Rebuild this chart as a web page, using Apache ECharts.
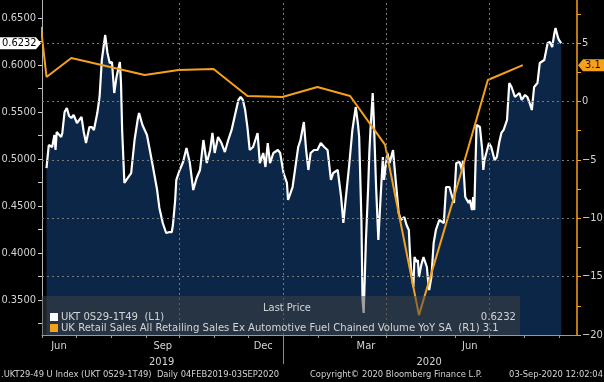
<!DOCTYPE html>
<html><head><meta charset="utf-8">
<script src="https://cdn.jsdelivr.net/npm/echarts@6/dist/echarts.min.js"></script>
<style>html,body{margin:0;padding:0;background:#000;} #c{width:604px;height:382px;}</style>
</head><body><div id="c"></div>
<script>
const FONT = '"DejaVu Sans Condensed","Liberation Sans Narrow","DejaVu Sans",sans-serif';

// ---------- DATA ----------
const whiteDates = ['2019-06-05','2019-06-07','2019-06-10','2019-06-12','2019-06-13','2019-06-14','2019-06-18','2019-06-19','2019-06-21','2019-06-23','2019-06-25','2019-06-27','2019-06-29','2019-07-02','2019-07-06','2019-07-08','2019-07-10','2019-07-13','2019-07-15','2019-07-17','2019-07-20','2019-07-22','2019-07-24','2019-07-27','2019-07-29','2019-07-31','2019-08-02','2019-08-04','2019-08-06','2019-08-09','2019-08-10','2019-08-11','2019-08-13','2019-08-16','2019-08-19','2019-08-22','2019-08-25','2019-08-26','2019-08-29','2019-09-02','2019-09-04','2019-09-07','2019-09-11','2019-09-13','2019-09-16','2019-09-19','2019-09-22','2019-09-24','2019-09-25','2019-09-27','2019-09-28','2019-10-01','2019-10-04','2019-10-07','2019-10-10','2019-10-13','2019-10-16','2019-10-19','2019-10-22','2019-10-25','2019-10-28','2019-10-30','2019-11-01','2019-11-04','2019-11-07','2019-11-10','2019-11-13','2019-11-16','2019-11-19','2019-11-22','2019-11-24','2019-11-26','2019-11-28','2019-11-30','2019-12-02','2019-12-05','2019-12-09','2019-12-11','2019-12-14','2019-12-16','2019-12-18','2019-12-20','2019-12-23','2019-12-27','2019-12-29','2020-01-01','2020-01-04','2020-01-05','2020-01-09','2020-01-12','2020-01-14','2020-01-16','2020-01-19','2020-01-21','2020-01-23','2020-01-25','2020-01-28','2020-01-31','2020-02-03','2020-02-06','2020-02-09','2020-02-12','2020-02-14','2020-02-18','2020-02-21','2020-02-23','2020-02-25','2020-02-28','2020-03-02','2020-03-05','2020-03-07','2020-03-08','2020-03-10','2020-03-11','2020-03-12','2020-03-14','2020-03-16','2020-03-17','2020-03-18','2020-03-20','2020-03-21','2020-03-23','2020-03-25','2020-03-27','2020-03-29','2020-03-30','2020-04-02','2020-04-04','2020-04-07','2020-04-08','2020-04-12','2020-04-14','2020-04-17','2020-04-19','2020-04-21','2020-04-22','2020-04-23','2020-04-25','2020-04-26','2020-04-28','2020-04-29','2020-04-30','2020-05-02','2020-05-04','2020-05-07','2020-05-08','2020-05-09','2020-05-11','2020-05-13','2020-05-15','2020-05-18','2020-05-22','2020-05-24','2020-05-27','2020-05-31','2020-06-02','2020-06-05','2020-06-07','2020-06-08','2020-06-10','2020-06-13','2020-06-14','2020-06-16','2020-06-17','2020-06-18','2020-06-20','2020-06-23','2020-06-25','2020-06-26','2020-06-27','2020-07-01','2020-07-03','2020-07-06','2020-07-08','2020-07-10','2020-07-12','2020-07-14','2020-07-17','2020-07-19','2020-07-21','2020-07-24','2020-07-28','2020-07-30','2020-08-02','2020-08-04','2020-08-06','2020-08-08','2020-08-10','2020-08-13','2020-08-15','2020-08-19','2020-08-22','2020-08-24','2020-08-26','2020-08-28','2020-08-29','2020-08-31','2020-09-01','2020-09-02','2020-09-03'];
const whiteValues = [0.4904,0.5149,0.5128,0.5255,0.5096,0.5287,0.5234,0.5277,0.5500,0.5543,0.5457,0.5436,0.5468,0.5383,0.5447,0.5287,0.5170,0.5340,0.5340,0.5309,0.5489,0.5660,0.6053,0.6319,0.6128,0.6021,0.6032,0.5702,0.5872,0.6032,0.5809,0.5309,0.4745,0.4798,0.4851,0.5202,0.5436,0.5489,0.5362,0.5255,0.5128,0.4936,0.4670,0.4479,0.4319,0.4213,0.4223,0.4223,0.4298,0.4564,0.4777,0.4883,0.4968,0.5117,0.4957,0.4670,0.4798,0.4883,0.5202,0.4957,0.5096,0.5277,0.5064,0.5234,0.5170,0.5074,0.5202,0.5309,0.5468,0.5628,0.5660,0.5628,0.5521,0.5340,0.5096,0.5128,0.5277,0.4957,0.5064,0.4915,0.5170,0.4957,0.5064,0.5096,0.5064,0.4851,0.4745,0.4564,0.4702,0.4957,0.5128,0.5202,0.5394,0.5096,0.4883,0.5064,0.5096,0.5096,0.5170,0.5128,0.5096,0.4777,0.4851,0.4883,0.4596,0.4319,0.4564,0.4915,0.5309,0.5553,0.5362,0.5234,0.4351,0.3500,0.3362,0.4138,0.4702,0.5064,0.5309,0.5702,0.5415,0.4702,0.4138,0.4596,0.5021,0.4777,0.5064,0.4957,0.5096,0.4957,0.4426,0.4351,0.4383,0.4298,0.4245,0.4000,0.3819,0.3638,0.3957,0.3904,0.3926,0.3745,0.3872,0.3957,0.3851,0.3713,0.3606,0.3745,0.4106,0.4245,0.4351,0.4319,0.4702,0.4702,0.4532,0.4957,0.4968,0.4883,0.4989,0.4596,0.4532,0.4564,0.4457,0.4596,0.4457,0.5362,0.5340,0.5096,0.4883,0.4989,0.5170,0.5128,0.4989,0.5021,0.5170,0.5277,0.5309,0.5415,0.5809,0.5766,0.5660,0.5702,0.5628,0.5681,0.5660,0.5596,0.5521,0.5766,0.5809,0.6021,0.6053,0.6234,0.6245,0.6191,0.6340,0.6394,0.6298,0.6266,0.6266,0.6232];

const retailDates = ['2019-05-31','2019-06-05','2019-06-27','2019-08-31','2019-09-30','2019-10-31','2019-11-30','2019-12-31','2020-01-31','2020-02-29','2020-03-31','2020-04-30','2020-05-31','2020-06-30','2020-07-31'];
const retailValues = [6.37,2.09,3.72,2.26,2.69,2.77,0.46,0.38,1.23,0.46,-3.73,-18.3,-8.2,1.83,3.1];

const monthTickDates = ['2019-06-01','2019-07-01','2019-08-01','2019-09-01','2019-10-01','2019-11-01','2019-12-01','2020-01-01','2020-02-01','2020-03-01','2020-04-01','2020-05-01','2020-06-01','2020-07-01','2020-08-01','2020-09-01'];
const monthLabelDates = ['2019-06-16','2019-09-16','2019-12-14','2020-03-14','2020-06-14'];
const monthLabels = ['Jun','Sep','Dec','Mar','Jun'];
const yearLabelDates = ['2019-09-15','2020-05-09'];
const yearLabels = ['2019','2020'];
const yearBreakDates = ['2020-01-01'];
const quarterGridDates = ['2019-10-01','2020-01-01','2020-04-01','2020-07-01'];

const leftLabelValues = [0.35,0.40,0.45,0.50,0.55,0.60,0.65];
const leftTickValues = [0.325,0.35,0.375,0.40,0.425,0.45,0.475,0.50,0.525,0.55,0.575,0.60,0.625,0.65];
const rightLabelValues = [-20,-15,-10,-5,0,5];
const rightTickValues = [-20,-17.5,-15,-12.5,-10,-7.5,-5,-2.5,0,2.5,5,7.5];
const rightGridValues = [-15,-10,-5,0,5];

const whiteName = 'UKT 0S29-1T49  (L1)';
const retailName = 'UK Retail Sales All Retailing Sales Ex Automotive Fuel Chained Volume YoY SA  (R1) 3.1';
const lastWhite = '0.6232';
const lastRetail = '3.1';

// ---------- CHART ----------
function ts(s){ const p=s.split('-').map(Number); return new Date(p[0],p[1]-1,p[2]).getTime(); }
const monthMap = {}; monthLabelDates.forEach((d,i)=>monthMap[ts(d)] = monthLabels[i]);
const yearMap = {}; yearLabelDates.forEach((d,i)=>yearMap[ts(d)] = yearLabels[i]);

const NAVY = '#0b2647';
const ORANGE = '#f5a11c';
const TXT = '#d4d4d4';

const chart = echarts.init(document.getElementById('c'));
const xMin = ts('2019-06-01'), xMax = ts('2020-09-17');

chart.setOption({
  animation: false,
  backgroundColor: '#000',
  grid: {left: 42, right: 27, top: 0, bottom: 47, containLabel: false, outerBoundsMode: 'none'},
  xAxis: [{
    type: 'value', min: xMin, max: xMax, position: 'bottom',
    axisLine: {show: true, onZero: false, lineStyle: {color: '#9a9a9a', width: 1}},
    axisTick: {show: true, customValues: monthTickDates.map(ts), length: 3, lineStyle: {color: '#9a9a9a'}},
    axisLabel: {show: true, customValues: monthLabelDates.map(ts), formatter: v => monthMap[v] || '', color: TXT, fontFamily: FONT, fontSize: 11, margin: 6},
    splitLine: {show: false}
  }, {
    type: 'value', min: xMin, max: xMax, position: 'bottom',
    axisLine: {show: false, onZero: false},
    axisTick: {show: true, customValues: yearBreakDates.map(ts), length: 29, lineStyle: {color: '#8a8a8a'}},
    axisLabel: {show: true, customValues: yearLabelDates.map(ts), formatter: v => yearMap[v] || '', color: TXT, fontFamily: FONT, fontSize: 11, margin: 22},
    splitLine: {show: false}
  }],
  yAxis: [{
    type: 'value', position: 'left', min: 0.31277, max: 0.66915,
    axisLine: {show: true, onZero: false, lineStyle: {color: '#b5b5b5'}},
    axisTick: {show: true, customValues: leftTickValues, length: 4, lineStyle: {color: '#cfcfcf'}},
    axisLabel: {show: true, customValues: leftLabelValues, formatter: v => v.toFixed(4), color: TXT, fontFamily: FONT, fontSize: 11, margin: 6},
    splitLine: {show: false}
  }, {
    type: 'value', position: 'right', min: -20, max: 8.68,
    axisLine: {show: true, onZero: false, lineStyle: {color: ORANGE, width: 1.5}},
    axisTick: {show: true, customValues: rightTickValues, length: 4, lineStyle: {color: ORANGE}},
    axisLabel: {show: true, customValues: rightLabelValues, formatter: v => (Number(v) < 0 ? '\u2212' + Math.abs(Number(v)) : String(v)), color: TXT, fontFamily: FONT, fontSize: 11, margin: 5},
    splitLine: {show: false}
  }],
  series: [{
    name: whiteName, type: 'line', xAxisIndex: 0, yAxisIndex: 0, z: 2,
    data: whiteDates.map((d,i)=>[ts(d), whiteValues[i]]),
    showSymbol: false, lineStyle: {color: '#ffffff', width: 2.2},
    areaStyle: {color: NAVY, opacity: 1, origin: 'start'}
  }, {
    name: 'grid', type: 'line', xAxisIndex: 0, yAxisIndex: 1, z: 3, data: [],
    markLine: {
      silent: true, symbol: ['none','none'], label: {show: false},
      lineStyle: {color: '#7a7a7a', type: [2,3], width: 1},
      data: quarterGridDates.map(d=>({xAxis: ts(d)})).concat(rightGridValues.map(v=>({yAxis: v})))
    }
  }, {
    name: retailName, type: 'line', xAxisIndex: 0, yAxisIndex: 1, z: 4,
    data: retailDates.map((d,i)=>[ts(d), retailValues[i]]),
    showSymbol: false, lineStyle: {color: ORANGE, width: 2}
  }]
});

const yW = chart.convertToPixel({yAxisIndex: 0}, whiteValues[whiteValues.length-1]);
const yR = chart.convertToPixel({yAxisIndex: 1}, retailValues[retailValues.length-1]);

chart.setOption({
  graphic: [
    {type: 'rect', z: 100, shape: {x: 42, y: 296, width: 478, height: 39}, style: {fill: 'rgba(66,66,66,0.5)'}},
    {type: 'text', z: 101, x: 287, y: 308.5, style: {text: 'Last Price', fill: TXT, font: '11px ' + FONT, align: 'center', verticalAlign: 'middle'}},
    {type: 'rect', z: 101, shape: {x: 50, y: 313, width: 8, height: 8}, style: {fill: '#ffffff'}},
    {type: 'text', z: 101, x: 61, y: 317.5, style: {text: whiteName, fill: TXT, font: '11.2px ' + FONT, verticalAlign: 'middle'}},
    {type: 'text', z: 101, x: 516, y: 317.5, style: {text: lastWhite, fill: TXT, font: '11.2px ' + FONT, align: 'right', verticalAlign: 'middle'}},
    {type: 'rect', z: 101, shape: {x: 50, y: 324, width: 8, height: 8}, style: {fill: ORANGE}},
    {type: 'text', z: 101, x: 61, y: 328.5, style: {text: retailName, fill: TXT, font: '11.2px ' + FONT, verticalAlign: 'middle'}},
    {type: 'polygon', z: 102, shape: {points: [[0,yW-6],[36,yW-6],[41,yW],[36,yW+6],[0,yW+6]]}, style: {fill: '#ffffff'}},
    {type: 'text', z: 103, x: 2, y: yW, style: {text: lastWhite, fill: '#000', font: '11px ' + FONT, verticalAlign: 'middle'}},
    {type: 'polygon', z: 102, shape: {points: [[578,yR],[583,yR-6],[604,yR-6],[604,yR+6],[583,yR+6]]}, style: {fill: ORANGE}},
    {type: 'text', z: 103, x: 585, y: yR, style: {text: lastRetail, fill: '#111', font: '11px ' + FONT, verticalAlign: 'middle'}},
    {type: 'text', z: 101, x: 1, y: 375, style: {text: '.UKT29-49 U Index (UKT 0S29-1T49)  Daily 04FEB2019-03SEP2020', fill: TXT, font: '9.3px ' + FONT, verticalAlign: 'middle'}},
    {type: 'text', z: 101, x: 310, y: 375, style: {text: 'Copyright\u00a9 2020 Bloomberg Finance L.P.', fill: TXT, font: '9.3px ' + FONT, verticalAlign: 'middle'}},
    {type: 'text', z: 101, x: 603, y: 375, style: {text: '03-Sep-2020 12:02:04', fill: TXT, font: '9.3px ' + FONT, align: 'right', verticalAlign: 'middle'}}
  ]
});
</script></body></html>
